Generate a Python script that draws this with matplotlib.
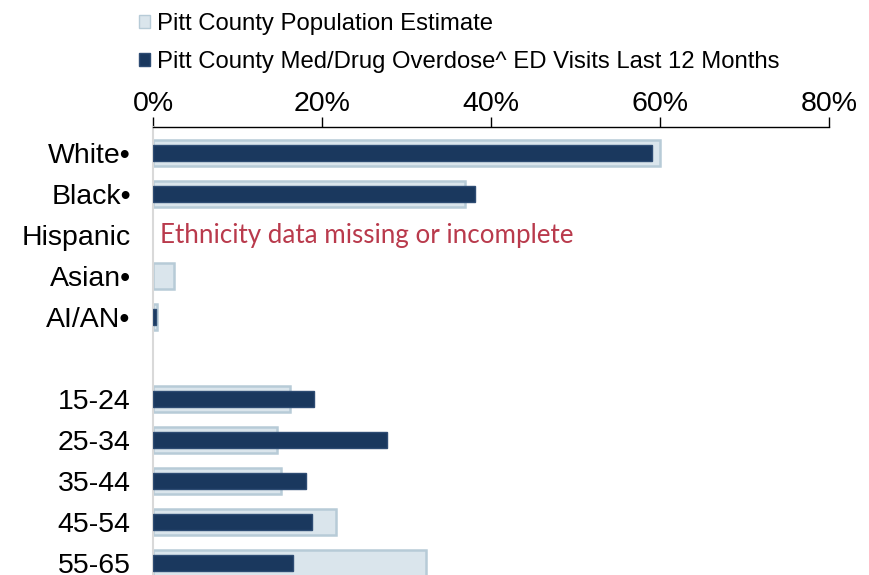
import matplotlib
matplotlib.use("Agg")
import matplotlib.pyplot as plt
from matplotlib.patches import Patch

categories = ["White•", "Black•", "Hispanic", "Asian•", "AI/AN•", "",
              "15-24", "25-34", "35-44", "45-54", "55-65"]
population = [60.0, 36.9, None, 2.5, 0.5, None, 16.2, 14.7, 15.1, 21.7, 32.3]
overdose = [59.1, 38.1, None, 0.0, 0.3, None, 19.1, 27.7, 18.1, 18.8, 16.6]
xticks = [0, 20, 40, 60, 80]
xtick_labels = ["0%", "20%", "40%", "60%", "80%"]
note = "Ethnicity data missing or incomplete"
legend_labels = ["Pitt County Population Estimate",
                 "Pitt County Med/Drug Overdose^ ED Visits Last 12 Months"]

plt.rcParams['font.family'] = ['Liberation Sans', 'DejaVu Sans']

W, H = 869, 575
fig = plt.figure(figsize=(W / 100, H / 100), dpi=100)
left = 153 / W
right = 829 / W
top = 1 - 127 / H
ax = fig.add_axes([left, 0, right - left, top])

pop_fc = "#dae5ec"
pop_ec = "#b7cbd7"
od_fc = "#1a385e"
od_ec = "#2e4c73"

ypos = list(range(len(categories)))
for i, (p, o) in enumerate(zip(population, overdose)):
    if p is not None:
        ax.barh(i, p, height=0.64, color=pop_fc, edgecolor=pop_ec, linewidth=1.8, zorder=2)
    if o is not None and o > 0:
        ax.barh(i, o, height=0.40, color=od_fc, edgecolor=od_ec, linewidth=1.0, zorder=3)

row_px = 41
top_off = (153 - 127) / row_px
ax.set_ylim(-top_off + 448 / row_px, -top_off)
ax.set_xlim(0, 80)

ax.xaxis.tick_top()
ax.set_xticks(xticks)
ax.set_xticklabels(xtick_labels, fontsize=20.5)
ax.tick_params(axis='x', direction='out', length=7, width=1.0, color='black', pad=0.5)
ax.set_yticks(ypos)
ax.set_yticklabels(categories, fontsize=20.5)
ax.tick_params(axis='y', length=0, pad=16)

for s in ["right", "bottom"]:
    ax.spines[s].set_visible(False)
ax.spines["top"].set_color("black")
ax.spines["top"].set_linewidth(1.0)
ax.spines["left"].set_color("#d9d9d9")
ax.spines["left"].set_linewidth(1.5)

ax.text(0.8, 2, note, color="#b93a4c", fontsize=18.7, va="center", ha="left",
        family=["Lato", "DejaVu Sans"])

handles = [Patch(facecolor=pop_fc, edgecolor=pop_ec, linewidth=1.0),
           Patch(facecolor=od_fc, edgecolor=od_ec, linewidth=1.0)]
fig.legend(handles, legend_labels, loc="upper left", bbox_to_anchor=(126 / W, 1.0),
           frameon=False, fontsize=17.2, handlelength=0.45, handleheight=0.45,
           handletextpad=0.3, labelspacing=0.66, borderaxespad=0.15)

fig.savefig("out.png", dpi=100)
